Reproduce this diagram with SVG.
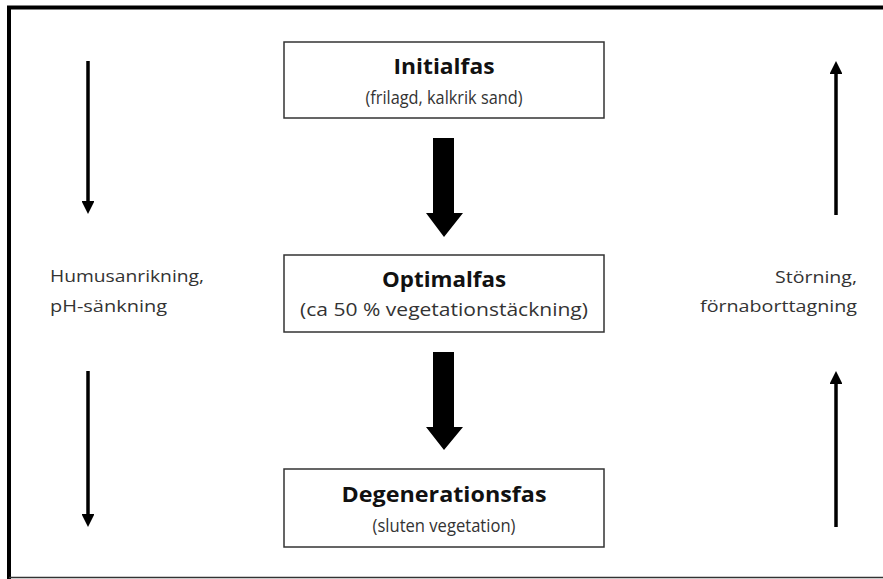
<svg xmlns="http://www.w3.org/2000/svg" width="883" height="579" viewBox="0 0 883 579">
<defs>
<style>
.box{fill:#fff;stroke:#333;stroke-width:1.5}
.t{font-family:"Open Sans","Noto Sans",sans-serif;font-weight:bold;font-size:20.5px;fill:#111;text-anchor:middle}
.s{font-family:"Open Sans","Noto Sans",sans-serif;font-size:17.5px;fill:#333;text-anchor:middle}
.l{font-family:"Open Sans","Noto Sans",sans-serif;font-size:17px;fill:#333}
.thin{stroke:#000;stroke-width:3.5;fill:none}
.big{fill:#000}
</style>
<marker id="ah" viewBox="0 0 10 10" refX="0" refY="5" markerWidth="3.7" markerHeight="3.7" orient="auto" markerUnits="strokeWidth">
<path d="M0,0 L10,5 L0,10 Z" fill="#000"/>
</marker>
</defs>
<rect width="883" height="579" fill="#fff"/>
<g id="frame">
<path d="M9,579 L9,7.5 L883,7.5" fill="none" stroke="#000" stroke-width="4"/>
<line x1="9" y1="577.5" x2="883" y2="577.5" stroke="#333" stroke-width="1.5"/>
</g>
<g id="initialfas">
<rect class="box" x="284" y="42" width="320" height="76"/>
<text class="t" x="444" y="74" textLength="101" lengthAdjust="spacingAndGlyphs">Initialfas</text>
<text class="s" x="444" y="104" textLength="157" lengthAdjust="spacingAndGlyphs">(frilagd, kalkrik sand)</text>
</g>
<g id="optimalfas">
<rect class="box" x="284" y="255" width="320" height="77"/>
<text class="t" x="444" y="287" textLength="124" lengthAdjust="spacingAndGlyphs">Optimalfas</text>
<text class="s" x="444" y="316" textLength="288" lengthAdjust="spacingAndGlyphs">(ca 50 % vegetationstäckning)</text>
</g>
<g id="degenerationsfas">
<rect class="box" x="284" y="469" width="320" height="78"/>
<text class="t" x="444" y="502" textLength="205" lengthAdjust="spacingAndGlyphs">Degenerationsfas</text>
<text class="s" x="444" y="532" textLength="143" lengthAdjust="spacingAndGlyphs">(sluten vegetation)</text>
</g>
<g id="left-label">
<text class="l" x="50" y="282" textLength="154" lengthAdjust="spacingAndGlyphs">Humusanrikning,</text>
<text class="l" x="50" y="312" textLength="117" lengthAdjust="spacingAndGlyphs">pH-sänkning</text>
</g>
<g id="right-label">
<text class="l" x="857" y="283" text-anchor="end" textLength="82" lengthAdjust="spacingAndGlyphs">Störning,</text>
<text class="l" x="857" y="312" text-anchor="end" textLength="157" lengthAdjust="spacingAndGlyphs">förnaborttagning</text>
</g>
<g id="connectors">
<path class="big" d="M433,138 L454,138 L454,213 L463,213 L444,237 L426,213 L433,213 Z"/>
<path class="big" d="M433,352 L454,352 L454,427 L463,427 L444,450 L426,427 L433,427 Z"/>
<line class="thin" x1="88" y1="61" x2="88" y2="201" marker-end="url(#ah)"/>
<line class="thin" x1="88" y1="371" x2="88" y2="514" marker-end="url(#ah)"/>
<line class="thin" x1="836" y1="215" x2="836" y2="74" marker-end="url(#ah)"/>
<line class="thin" x1="836" y1="527" x2="836" y2="384" marker-end="url(#ah)"/>
</g>
</svg>
